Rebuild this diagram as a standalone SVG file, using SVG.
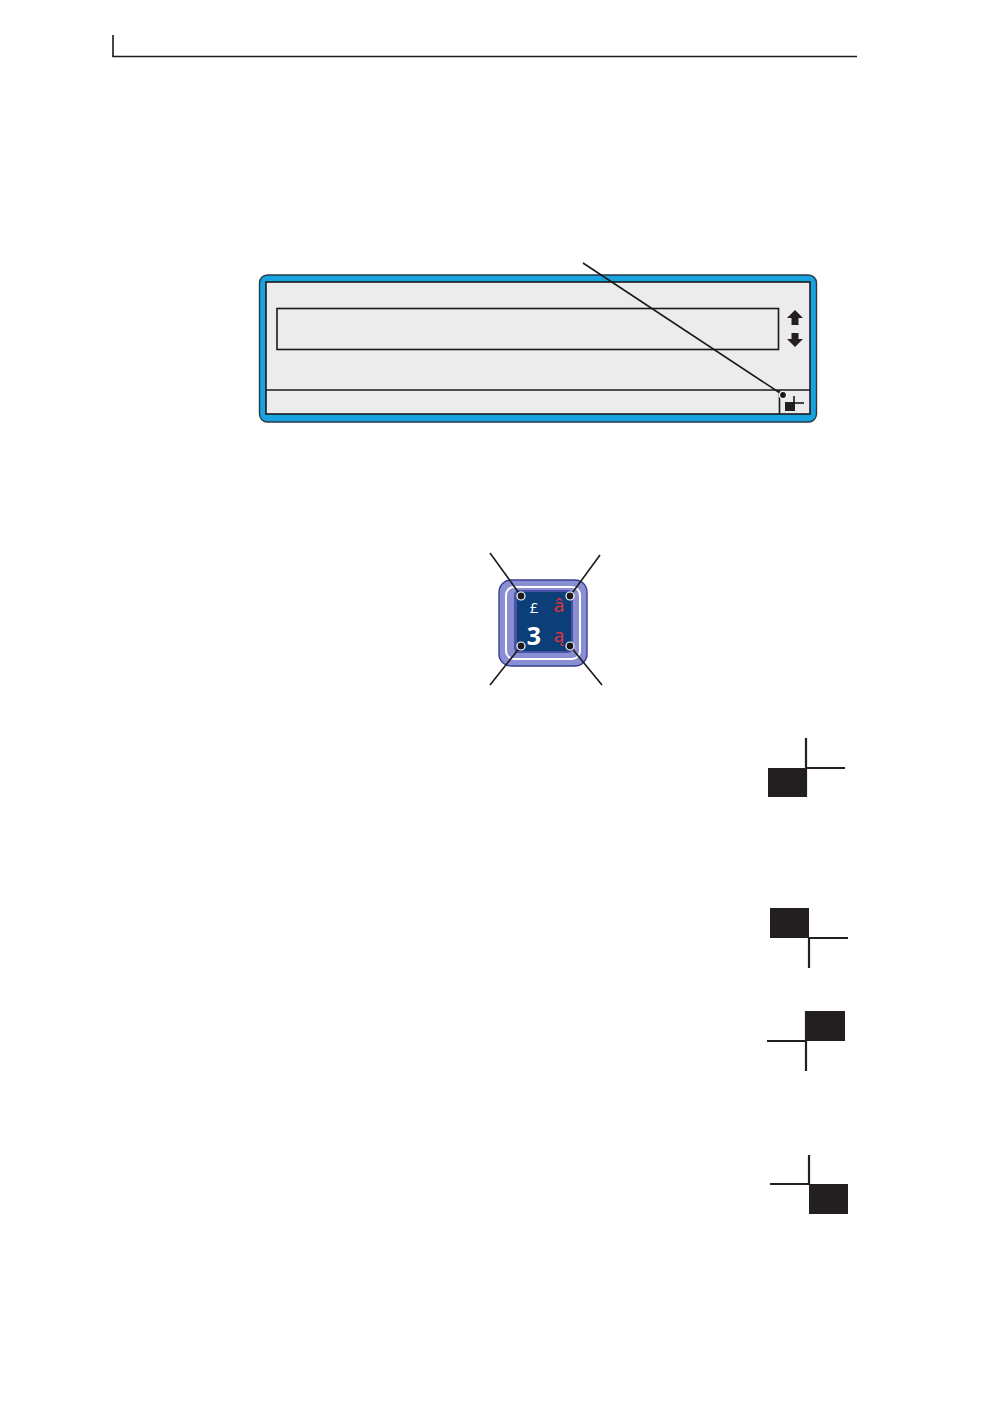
<svg xmlns="http://www.w3.org/2000/svg" width="998" height="1416" viewBox="0 0 998 1416">
<style>
.ln{stroke:#1a1a1a;stroke-width:1.6;fill:none}
.thick{stroke:#231f20;stroke-width:2.2;fill:none}
.blk{fill:#231f20}
.dot{fill:#1a1a1a;stroke:#fff;stroke-width:1.2}
.ch{font-family:"Open Sans","DejaVu Sans",sans-serif;text-anchor:middle}
</style>
<rect width="998" height="1416" fill="#fff"/>
<g id="header">
<line class="ln" x1="113" y1="35" x2="113" y2="57"/>
<line class="ln" x1="112.5" y1="56.5" x2="857" y2="56.5"/>
</g>
<g id="display">
<rect x="259.5" y="275" width="557" height="147" rx="8" fill="#18a3e0" stroke="#2a3a48" stroke-width="1.4"/>
<rect x="266" y="282" width="544" height="132" fill="#ececec" stroke="#1a1a1a" stroke-width="1.6"/>
<rect x="277" y="308.5" width="501.5" height="41" fill="#ececec" stroke="#1a1a1a" stroke-width="1.6"/>
<path class="blk" d="M795 310 L803 318 L798.5 318 L798.5 325 L791.5 325 L791.5 318 L787 318 Z"/>
<path class="blk" d="M795 347 L803 339 L798.5 339 L798.5 333 L791.5 333 L791.5 339 L787 339 Z"/>
<line class="ln" x1="266" y1="390" x2="810" y2="390"/>
<line class="ln" x1="779.5" y1="390" x2="779.5" y2="414"/>
<rect class="blk" x="785" y="402" width="10" height="9"/>
<line class="ln" x1="793" y1="403" x2="804" y2="403"/>
<line class="ln" x1="794" y1="396" x2="794" y2="403"/>
</g>
<g id="key">
<rect x="499" y="580" width="88" height="86" rx="12" fill="#8a8fd4" stroke="#3a3f98" stroke-width="1.4"/>
<rect x="506" y="587" width="74" height="72" rx="8" fill="#8a8fd4" stroke="#ffffff" stroke-width="2"/>
<rect x="514" y="590" width="59" height="63" rx="5" fill="#4a52a8"/>
<rect x="517" y="592" width="54" height="59" rx="3" fill="#0c3f78"/>
<text class="ch" x="534" y="613" font-size="15" fill="#ffffff">£</text>
<text class="ch" x="559" y="612" font-size="19" fill="#e8323c">â</text>
<text class="ch" x="534" y="645" font-size="25" font-weight="bold" fill="#ffffff">3</text>
<text class="ch" x="559" y="642" font-size="19" fill="#e8323c">ą</text>
</g>
<g id="connectors">
<line class="ln" x1="583" y1="263" x2="783" y2="395"/>
<circle class="dot" cx="783" cy="395" r="3.5" stroke="none"/>
<line class="ln" x1="490" y1="553" x2="521" y2="596"/>
<line class="ln" x1="600" y1="555" x2="570" y2="596"/>
<line class="ln" x1="490" y1="685" x2="521" y2="646"/>
<line class="ln" x1="602" y1="685" x2="570" y2="646"/>
<circle class="dot" cx="521" cy="596" r="4"/>
<circle class="dot" cx="570" cy="596" r="4"/>
<circle class="dot" cx="521" cy="646" r="4"/>
<circle class="dot" cx="570" cy="646" r="4"/>
</g>
<g id="corner-bottom-left">
<rect class="blk" x="768" y="768" width="38" height="29"/>
<line class="thick" x1="806" y1="738" x2="806" y2="797"/>
<line class="thick" x1="806" y1="768" x2="845" y2="768"/>
</g>
<g id="corner-top-left">
<rect class="blk" x="770" y="908" width="39" height="30"/>
<line class="thick" x1="809" y1="938" x2="809" y2="968"/>
<line class="thick" x1="809" y1="938" x2="848" y2="938"/>
</g>
<g id="corner-top-right">
<rect class="blk" x="806" y="1011" width="39" height="30"/>
<line class="thick" x1="767" y1="1041" x2="806" y2="1041"/>
<line class="thick" x1="806" y1="1011" x2="806" y2="1071"/>
</g>
<g id="corner-bottom-right">
<rect class="blk" x="809" y="1184" width="39" height="30"/>
<line class="thick" x1="809" y1="1155" x2="809" y2="1184"/>
<line class="thick" x1="770" y1="1184" x2="809" y2="1184"/>
</g>
</svg>
